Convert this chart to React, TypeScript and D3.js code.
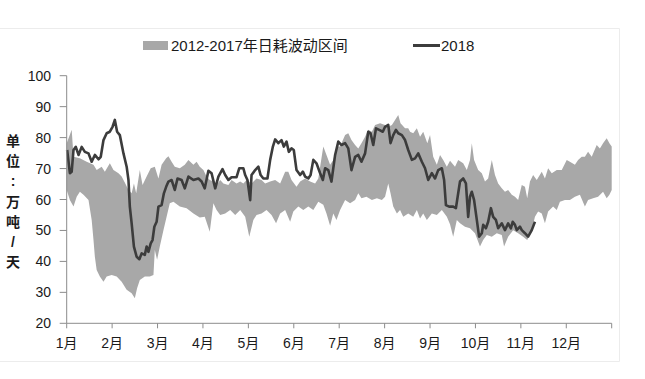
import React, { useEffect } from "react";
import * as d3 from "d3";

// ---- data (x in months from Jan 1, 0..12; y in 万吨/天) ----
const monthLabels = ["1月", "2月", "3月", "4月", "5月", "6月", "7月", "8月", "9月", "10月", "11月", "12月"];
const yTicks = [20, 30, 40, 50, 60, 70, 80, 90, 100];
const legendBandLabel = "2012-2017年日耗波动区间";
const legendLineLabel = "2018";
const yTitleChars = ["单", "位", ":", "万", "吨", "/", "天"];

const line2018: [number, number][] = [
  [0.01, 76.0], [0.07, 68.5], [0.11, 69], [0.15, 76], [0.2, 77], [0.26, 74.4], [0.33, 77], [0.4, 75.4],
  [0.48, 74.9], [0.55, 72.2], [0.62, 74.4], [0.7, 73], [0.75, 73.8], [0.81, 79.2], [0.88, 81.4], [0.95, 81.9],
  [1.01, 83.5], [1.06, 85.7], [1.11, 81.9], [1.17, 80.8], [1.25, 74.9], [1.32, 70.6], [1.36, 66.3], [1.39, 57.7],
  [1.43, 52.3], [1.48, 44.8], [1.54, 41.5], [1.6, 40.7], [1.65, 42.6], [1.72, 42.1], [1.76, 44.8], [1.8, 43.1],
  [1.85, 45.8], [1.89, 46.9], [1.93, 51.2], [1.98, 52.8], [2.02, 57.7], [2.09, 58.2], [2.14, 62], [2.19, 64.1],
  [2.24, 65.8], [2.31, 66.3], [2.38, 63.1], [2.44, 66.8], [2.53, 66.3], [2.6, 63.6], [2.68, 67.4], [2.79, 66.3],
  [2.9, 66.8], [2.97, 65.8], [3.04, 63.6], [3.12, 69.3], [3.19, 68.5], [3.27, 63.6], [3.34, 67.4], [3.43, 69.8],
  [3.49, 67.9], [3.56, 66.3], [3.63, 67.2], [3.74, 67.2], [3.8, 70.1], [3.89, 70.1], [3.93, 67.9], [3.98, 66.3],
  [4.04, 59.8], [4.07, 67.9], [4.15, 69.5], [4.22, 70.6], [4.27, 67.9], [4.33, 66.8], [4.42, 66.8], [4.48, 72.8],
  [4.54, 77.1], [4.59, 79.4], [4.66, 78.2], [4.73, 79.2], [4.78, 77.1], [4.84, 78.7], [4.89, 75.4], [4.95, 76.5],
  [5.0, 76], [5.06, 69.5], [5.14, 67.9], [5.2, 69], [5.25, 67.4], [5.32, 66.8], [5.37, 67.9], [5.43, 72.8],
  [5.5, 71.7], [5.58, 68.5], [5.64, 66.3], [5.69, 70.1], [5.76, 69.5], [5.83, 65.8], [5.91, 74.4], [5.98, 78.7],
  [6.05, 77.6], [6.13, 78.2], [6.2, 76.5], [6.27, 69.5], [6.35, 73.8], [6.42, 74.4], [6.49, 72.2], [6.57, 74.9],
  [6.64, 81.9], [6.69, 81.4], [6.75, 77.6], [6.81, 83], [6.88, 82.5], [6.96, 81.9], [7.01, 83.5], [7.08, 84.1],
  [7.13, 78.2], [7.19, 80.8], [7.25, 82.5], [7.3, 81.4], [7.38, 80.8], [7.45, 79.2], [7.52, 76], [7.6, 72.8],
  [7.67, 73.3], [7.74, 74.9], [7.82, 72.2], [7.89, 70.1], [7.96, 66.3], [8.04, 68.5], [8.11, 66.8], [8.18, 69.5],
  [8.26, 70.1], [8.31, 66.3], [8.35, 58.2], [8.42, 57.7], [8.51, 57.7], [8.57, 57.2], [8.62, 62], [8.66, 65.8],
  [8.73, 66.8], [8.79, 65.2], [8.84, 54.4], [8.88, 60.9], [8.92, 62.5], [8.97, 59.8], [9.03, 53.4], [9.08, 48],
  [9.14, 49.1], [9.17, 51.8], [9.23, 50.7], [9.28, 52.8], [9.34, 57.2], [9.39, 54.4], [9.45, 53.4], [9.5, 50.7],
  [9.58, 52.3], [9.65, 50.1], [9.72, 52.3], [9.78, 50.7], [9.82, 52.8], [9.87, 51.8], [9.91, 50.1], [9.98, 51.2],
  [10.02, 50.1], [10.09, 49.1], [10.16, 48], [10.24, 50.1], [10.31, 52.8],
];

const bandUpper: [number, number][] = [
  [0.0, 78.2], [0.11, 82.5], [0.15, 73.8], [0.29, 73.3], [0.44, 72.2], [0.59, 71.2], [0.66, 69.5], [0.77, 70.6],
  [0.84, 69], [0.95, 71.7], [1.03, 69.5], [1.14, 68.5], [1.21, 67.4], [1.29, 65.2], [1.36, 63.1], [1.43, 62],
  [1.48, 65.2], [1.53, 62], [1.61, 69.5], [1.67, 64.7], [1.76, 67.4], [1.85, 70.1], [1.94, 70.6], [2.02, 66.8],
  [2.09, 71.2], [2.19, 73.3], [2.24, 74], [2.31, 72.2], [2.38, 70.6], [2.49, 70.1], [2.6, 71.2], [2.68, 72.8],
  [2.79, 71.2], [2.86, 72.2], [2.93, 70.6], [3.01, 69.5], [3.08, 67.4], [3.15, 66.3], [3.23, 65.8], [3.3, 64.7],
  [3.38, 66.3], [3.45, 65.2], [3.56, 64.7], [3.63, 66.3], [3.74, 65.2], [3.82, 65.8], [3.89, 65.2], [3.96, 66.3],
  [4.07, 65.2], [4.18, 66.8], [4.29, 66.3], [4.37, 65.2], [4.48, 65.8], [4.59, 66.3], [4.7, 65.2], [4.81, 69],
  [4.88, 69], [4.95, 66.3], [5.06, 64.1], [5.14, 65.8], [5.25, 66.8], [5.36, 65.8], [5.47, 65.2], [5.54, 66.8],
  [5.65, 77.1], [5.72, 74.4], [5.8, 71.2], [5.87, 72.8], [5.94, 77.1], [6.02, 77.1], [6.13, 80.8], [6.2, 81.4],
  [6.27, 79.2], [6.35, 77.6], [6.42, 76.5], [6.49, 78.2], [6.57, 80.3], [6.64, 82.5], [6.72, 81.9], [6.79, 84.1],
  [6.9, 84.6], [7.01, 84.1], [7.08, 83.5], [7.16, 84.1], [7.23, 85.7], [7.3, 87.3], [7.35, 84.6], [7.45, 83],
  [7.52, 83], [7.56, 81.9], [7.63, 81.4], [7.71, 83], [7.78, 80.3], [7.85, 81.9], [7.94, 78.2], [8.0, 80.8],
  [8.07, 73.8], [8.15, 71.2], [8.22, 74.4], [8.29, 72.8], [8.37, 70.6], [8.44, 72.5], [8.55, 70.6], [8.62, 72.8],
  [8.73, 71.7], [8.81, 69.5], [8.88, 72.8], [8.92, 78.2], [8.97, 72.8], [9.06, 69.5], [9.14, 68.5], [9.21, 65.8],
  [9.28, 66.8], [9.36, 72.8], [9.43, 67.9], [9.5, 65.2], [9.58, 63.6], [9.65, 62.5], [9.72, 63.1], [9.8, 61.5],
  [9.87, 60.9], [9.94, 59.8], [10.02, 64.7], [10.09, 64.1], [10.14, 60.4], [10.2, 65.8], [10.27, 67.9], [10.35, 66.3],
  [10.46, 69], [10.53, 66.8], [10.6, 70.1], [10.68, 68.5], [10.79, 69.5], [10.9, 69.5], [11.01, 72.8], [11.08, 72.2],
  [11.19, 71.2], [11.26, 72.8], [11.34, 73.8], [11.41, 73.8], [11.48, 75.4], [11.56, 73.8], [11.67, 77.6], [11.74, 76.5],
  [11.81, 78.2], [11.89, 79.8], [11.95, 78.2], [12.0, 77.1],
];

const bandLower: [number, number][] = [
  [0.0, 63.1], [0.07, 59.8], [0.15, 57.7], [0.22, 60.9], [0.29, 62.5], [0.37, 61.5], [0.48, 59.8], [0.55, 53.4],
  [0.59, 46.9], [0.62, 41.5], [0.66, 37.2], [0.73, 35.1], [0.81, 33.4], [0.88, 35.1], [0.99, 35.6], [1.1, 35.1],
  [1.21, 33.4], [1.32, 30.8], [1.43, 29.7], [1.5, 28.1], [1.55, 31.3], [1.61, 34], [1.72, 35.1], [1.83, 35.1],
  [1.91, 35.6], [1.94, 43.7], [1.99, 40.5], [2.05, 44.8], [2.13, 50.1], [2.2, 54.4], [2.27, 58.8], [2.35, 59.3],
  [2.49, 57.7], [2.64, 57.2], [2.79, 55.5], [2.93, 54.2], [3.04, 54.4], [3.15, 49.6], [3.23, 58.8], [3.3, 56.6],
  [3.38, 55], [3.49, 55.5], [3.6, 56.6], [3.71, 55], [3.82, 56.6], [3.93, 54.4], [4.02, 48], [4.11, 53.4],
  [4.18, 55], [4.29, 55.5], [4.4, 56.6], [4.51, 55], [4.61, 52.3], [4.7, 55.5], [4.81, 56.6], [4.92, 52.8],
  [4.99, 56.1], [5.1, 57.7], [5.21, 56.6], [5.32, 57.7], [5.43, 56.6], [5.54, 59.3], [5.65, 58.3], [5.72, 55.5],
  [5.8, 51.5], [5.87, 55.5], [5.94, 53.4], [6.02, 56.6], [6.13, 59.8], [6.24, 58.8], [6.35, 59.8], [6.42, 62],
  [6.49, 60.4], [6.6, 60.9], [6.72, 59.8], [6.83, 60.4], [6.94, 59.8], [7.01, 60.9], [7.08, 65.2], [7.13, 62],
  [7.19, 57.7], [7.27, 55.5], [7.34, 56.6], [7.41, 54.4], [7.52, 55.5], [7.63, 54.4], [7.71, 56.6], [7.78, 53.9],
  [7.85, 55.5], [7.93, 53.4], [8.04, 55.5], [8.15, 55], [8.26, 56.6], [8.37, 54.4], [8.44, 52], [8.51, 48],
  [8.59, 53.4], [8.66, 52.3], [8.77, 51.2], [8.88, 50.7], [8.99, 49.1], [9.1, 44.8], [9.17, 46.9], [9.25, 48.5],
  [9.36, 48], [9.47, 49.1], [9.58, 48.5], [9.63, 44.8], [9.72, 48], [9.83, 50.1], [9.94, 49.1], [10.05, 48],
  [10.14, 46.9], [10.24, 50.1], [10.31, 54.4], [10.38, 56.1], [10.46, 55.5], [10.53, 52.3], [10.6, 56.1], [10.71, 57.7],
  [10.79, 56.6], [10.86, 59.3], [10.97, 59.8], [11.08, 59.8], [11.19, 60.9], [11.3, 61.5], [11.41, 57.7], [11.48, 59.8],
  [11.59, 60.4], [11.7, 60.9], [11.81, 62.5], [11.89, 60.4], [11.95, 61.5], [12.0, 63.1],
];

const W = 645;
const H = 379;
const FONT = "'Liberation Sans', 'Noto Sans CJK SC', sans-serif";
const BAND = "#a8a8a8";
const LINE = "#3c3c3c";
const AXIS = "#8c8c8c";

export default function App() {
  useEffect(() => {
    document.body.style.margin = "0";
  }, []);

  const x = d3.scaleLinear().domain([0, 12]).range([66.7, 611.7]);
  const y = d3.scaleLinear().domain([20, 100]).range([323.3, 75.7]);

  const lineGen = d3
    .line<[number, number]>()
    .x((d) => x(d[0]))
    .y((d) => y(d[1]));

  const bandPts: [number, number][] = [...bandUpper, ...bandLower.slice().reverse()];
  const bandPath = (lineGen(bandPts) || "") + "Z";
  const linePath = lineGen(line2018) || "";

  const monthTicks = d3.range(0, 13);

  return (
    <svg width={W} height={H} style={{ display: "block", position: "absolute", left: 0, top: 0, background: "#fff" }} fontFamily={FONT}>
      {/* faint chart-area frame */}
      <path d={`M0,28.5H619.5V361.5H0`} fill="none" stroke="#ececec" strokeWidth={1} />

      {/* legend */}
      <rect x={143} y={41} width={25} height={9} fill={BAND} />
      <text x={171} y={45.5} dominantBaseline="central" fontSize={15} fill="#1a1a1a">
        {legendBandLabel}
      </text>
      <line x1={413} x2={440} y1={45.5} y2={45.5} stroke={LINE} strokeWidth={3} />
      <text x={441} y={45.5} dominantBaseline="central" fontSize={15} fill="#1a1a1a">
        {legendLineLabel}
      </text>

      {/* band and line */}
      <path d={bandPath} fill={BAND} stroke="none" />
      <path d={linePath} fill="none" stroke={LINE} strokeWidth={2.6} strokeLinejoin="round" />

      {/* y axis */}
      <line x1={x(0)} x2={x(0)} y1={y(100)} y2={y(20)} stroke={AXIS} strokeWidth={1} />
      {yTicks.map((t) => (
        <g key={t}>
          <line x1={x(0) - 7} x2={x(0)} y1={y(t)} y2={y(t)} stroke={AXIS} strokeWidth={1} />
          <text x={51} y={y(t)} textAnchor="end" dominantBaseline="central" fontSize={14} fill="#1a1a1a">
            {t}
          </text>
        </g>
      ))}

      {/* x axis */}
      <line x1={x(0)} x2={x(12)} y1={y(20)} y2={y(20)} stroke={AXIS} strokeWidth={1} />
      {monthTicks.map((m) => (
        <line key={m} x1={x(m)} x2={x(m)} y1={y(20)} y2={y(20) + 5} stroke={AXIS} strokeWidth={1} />
      ))}
      {monthLabels.map((lab, i) => (
        <text key={lab} x={x(i)} y={343} textAnchor="middle" dominantBaseline="central" fontSize={14} fill="#1a1a1a">
          {lab}
        </text>
      ))}

      {/* y title, stacked characters */}
      {yTitleChars.map((c, i) => (
        <text key={i} x={13} y={141 + i * 20.2} textAnchor="middle" dominantBaseline="central" fontSize={14} fontWeight="bold" fill="#1a1a1a">
          {c}
        </text>
      ))}
    </svg>
  );
}
